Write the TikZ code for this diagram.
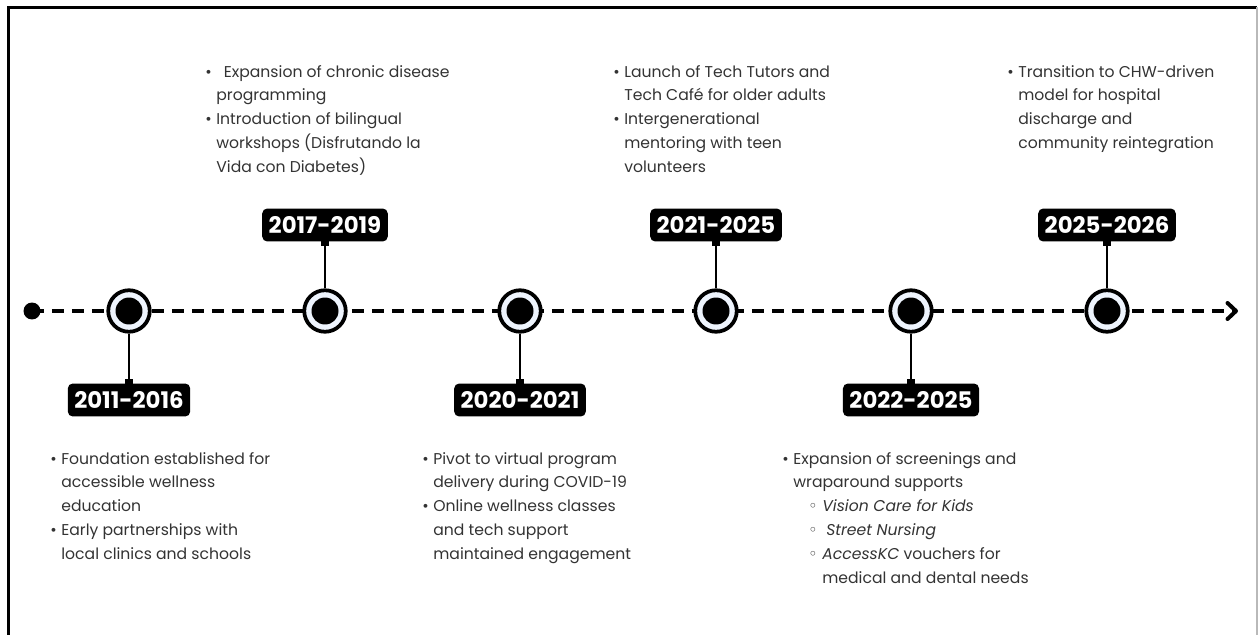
\documentclass[tikz,border=0pt]{standalone}
\usepackage{fontspec}
\setmainfont{Poppins}
\newfontfamily\symfont{DejaVu Sans}
\usetikzlibrary{arrows.meta}

\definecolor{ink}{HTML}{333333}
\definecolor{ringfill}{HTML}{EEF4FD}

% bullets for the note lists
\newcommand{\bul}{\makebox[0.22cm][l]{•}}
\newcommand{\subbul}{\makebox[0.28cm][l]{{\symfont ◦}}}
\newcommand{\ind}{\hspace*{0.22cm}}

\begin{document}
\begin{tikzpicture}[x=0.02cm, y=-0.02cm,
    ring/.style={circle, draw=black, line width=0.075cm, fill=ringfill,
      minimum size=0.83cm, inner sep=0pt},
    dot/.style={circle, fill=black, minimum size=0.54cm, inner sep=0pt},
    yearbox/.style={rectangle, rounded corners=0.1cm, fill=black,
      text=white, font=\fontsize{13}{15}\selectfont\bfseries,
      minimum height=0.66cm, inner xsep=0.13cm, inner ysep=0pt},
    stem/.style={draw=black, line width=0.04cm},
    knob/.style={rectangle, fill=black, minimum size=0.16cm, inner sep=0pt},
    note/.style={anchor=north west, inner sep=0pt, text=ink,
      font=\fontsize{8.9}{13.6}\selectfont},
    timeline/.style={line width=0.08cm, dash pattern=on 0.24cm off 0.16cm,
      -{Straight Barb[length=0.17cm, width=0.32cm, line cap=round, line join=round]}}
  ]
  \useasboundingbox (0,0) rectangle (1258,635);

  % frame
  \draw[line width=0.06cm] (8.5,635) -- (8.5,7.5) -- (1257,7.5);
  \draw[gray!55, line width=0.03cm] (1257,7.5) -- (1257,635);

  % time axis
  \node[circle, fill=black, minimum size=0.34cm, inner sep=0pt] (s0) at (32,311) {};
  \coordinate (axisend) at (1238,311);
  \draw[timeline] (s0.center) -- (axisend);

  \node[ring] (m1) at (129,311) {};
  \node[ring] (m2) at (325,311) {};
  \node[ring] (m3) at (520,311) {};
  \node[ring] (m4) at (716,311) {};
  \node[ring] (m5) at (911,311) {};
  \node[ring] (m6) at (1107,311) {};
  \node[dot] at (m1) {};
  \node[dot] at (m2) {};
  \node[dot] at (m3) {};
  \node[dot] at (m4) {};
  \node[dot] at (m5) {};
  \node[dot] at (m6) {};

  % year tags
  \node[yearbox] (y1) at (129,400) {2011-2016};
  \node[yearbox] (y2) at (325,225) {2017-2019};
  \node[yearbox] (y3) at (520,400) {2020-2021};
  \node[yearbox] (y4) at (716,225) {2021-2025};
  \node[yearbox] (y5) at (911,400) {2022-2025};
  \node[yearbox] (y6) at (1107,225) {2025-2026};

  \draw[stem] (m1) -- (y1);
  \draw[stem] (m2) -- (y2);
  \draw[stem] (m3) -- (y3);
  \draw[stem] (m4) -- (y4);
  \draw[stem] (m5) -- (y5);
  \draw[stem] (m6) -- (y6);
  \node[knob] at (y1.north) {};
  \node[knob] at (y2.south) {};
  \node[knob] at (y3.north) {};
  \node[knob] at (y4.south) {};
  \node[knob] at (y5.north) {};
  \node[knob] at (y6.south) {};

  % notes
  \node[note] (t1) at (50,447) {\begin{tabular}{@{}l@{}}
    \bul Foundation established for\\
    \ind accessible wellness\\
    \ind education\\
    \bul Early partnerships with\\
    \ind local clinics and schools
  \end{tabular}};
  \node[note] (t2) at (205,60) {\begin{tabular}{@{}l@{}}
    \bul\hspace*{0.15cm}Expansion of chronic disease\\
    \ind programming\\
    \bul Introduction of bilingual\\
    \ind workshops (Disfrutando la\\
    \ind Vida con Diabetes)
  \end{tabular}};
  \node[note] (t3) at (422,447) {\begin{tabular}{@{}l@{}}
    \bul Pivot to virtual program\\
    \ind delivery during COVID-19\\
    \bul Online wellness classes\\
    \ind and tech support\\
    \ind maintained engagement
  \end{tabular}};
  \node[note] (t4) at (613,60) {\begin{tabular}{@{}l@{}}
    \bul Launch of Tech Tutors and\\
    \ind Tech Café for older adults\\
    \bul Intergenerational\\
    \ind mentoring with teen\\
    \ind volunteers
  \end{tabular}};
  \node[note] (t5) at (782,447) {\begin{tabular}{@{}l@{}}
    \bul Expansion of screenings and\\
    \ind wraparound supports\\
    \ind\hspace*{0.3cm}\subbul\textit{Vision Care for Kids}\\
    \ind\hspace*{0.3cm}\subbul\hspace*{0.08cm}\textit{Street Nursing}\\
    \ind\hspace*{0.3cm}\subbul\textit{AccessKC} vouchers for\\
    \ind\hspace*{0.58cm}medical and dental needs
  \end{tabular}};
  \node[note] (t6) at (1007,60) {\begin{tabular}{@{}l@{}}
    \bul Transition to CHW-driven\\
    \ind model for hospital\\
    \ind discharge and\\
    \ind community reintegration
  \end{tabular}};
\end{tikzpicture}
\end{document}
